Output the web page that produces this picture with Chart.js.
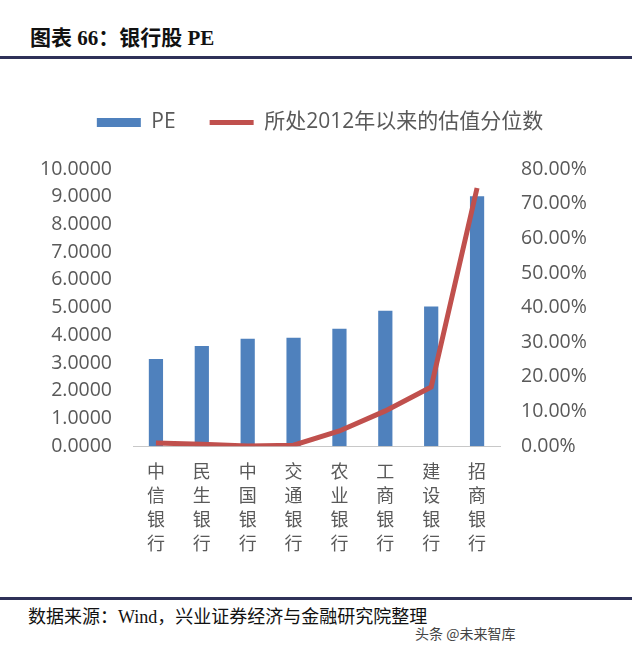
<!DOCTYPE html>
<html>
<head>
<meta charset="utf-8">
<script src="https://cdn.jsdelivr.net/npm/chart.js@4/dist/chart.umd.min.js"></script>
<style>
    body { margin: 0; background: #fff; width: 640px; height: 652px; position: relative; overflow: hidden; }
    .title { position: absolute; left: 30px; top: 21px; font: bold 21px "Liberation Serif", "Noto Sans CJK SC", serif; color: #111; }
    .rule { position: absolute; left: 0; width: 632px; height: 3px; background: #2e3158; }
    .source { position: absolute; left: 28px; top: 602px; font: 18px "Liberation Serif", "Noto Sans CJK SC", serif; color: #111; }
    .mark { position: absolute; left: 415px; top: 623px; font: 14px "Noto Sans CJK SC", sans-serif; color: #444; }
    .chart-box { position: absolute; left: 0; top: 78px; width: 640px; height: 496px; }
</style>
</head>
<body>
<div class="title">图表 66：银行股 PE</div>
<div class="rule" style="top:56px"></div>
<div class="chart-box"><canvas id="peChart"></canvas></div>
<div class="rule" style="top:597px"></div>
<div class="source">数据来源：Wind，兴业证券经济与金融研究院整理</div>
<div class="mark">头条 @未来智库</div>

<script>
const banks = ['中信银行', '民生银行', '中国银行', '交通银行', '农业银行', '工商银行', '建设银行', '招商银行'];
const peValues = [3.15, 3.62, 3.88, 3.91, 4.24, 4.89, 5.04, 9.02];
// percentile since 2012, in percent
const percentileValues = [0.9, 0.6, 0.1, 0.3, 4.4, 10.2, 17.1, 74.5];

const TEXT_COLOR = '#595959';
const FONT = '"Open Sans", "Noto Sans CJK SC", sans-serif';

// push the plot area down a bit below the legend
const legendSpacer = {
    id: 'legendSpacer',
    beforeInit(chart) {
        const fit = chart.legend.fit;
        chart.legend.fit = function () {
            fit.call(this);
            this.height += 26;
        };
    }
};

const initializeChart = () => {
    const ctx = document.getElementById('peChart').getContext('2d');
    new Chart(ctx, {
        type: 'bar',
        data: {
            // stack each label vertically, one character per line
            labels: banks.map(name => name.split('')),
            datasets: [{
                label: 'PE',
                data: peValues,
                backgroundColor: '#4f81bd',
                barPercentage: 0.31,
                categoryPercentage: 1,
                yAxisID: 'y',
                order: 2
            }, {
                type: 'line',
                label: '所处2012年以来的估值分位数',
                data: percentileValues,
                borderColor: '#c0504d',
                backgroundColor: '#c0504d',
                borderWidth: 5,
                pointRadius: 0,
                tension: 0,
                yAxisID: 'y1',
                order: 1
            }]
        },
        options: {
            responsive: true,
            maintainAspectRatio: false,
            animation: false,
            layout: { padding: { left: 0, right: 0, top: 0, bottom: 10 } },
            plugins: {
                tooltip: { enabled: false },
                legend: {
                    position: 'top',
                    labels: {
                        usePointStyle: true,
                        pointStyleWidth: 44,
                        boxHeight: 9,
                        padding: 34,
                        color: TEXT_COLOR,
                        font: { family: FONT, size: 21 },
                        sort: (a, b) => a.datasetIndex - b.datasetIndex,
                        generateLabels: chart => Chart.defaults.plugins.legend.labels.generateLabels(chart).map(item => {
                            item.pointStyle = item.datasetIndex === 0 ? 'rect' : 'line';
                            return item;
                        })
                    }
                }
            },
            scales: {
                x: {
                    grid: { display: false },
                    border: { display: true, color: '#c8c8c8', width: 1 },
                    ticks: {
                        color: TEXT_COLOR,
                        padding: 7,
                        maxRotation: 0,
                        autoSkip: false,
                        font: { family: FONT, size: 18, lineHeight: 1.33 }
                    }
                },
                y: {
                    position: 'left',
                    min: 0,
                    max: 10,
                    grid: { display: false },
                    border: { display: false },
                    afterFit: scale => { scale.width = 133; },
                    ticks: {
                        stepSize: 1,
                        color: TEXT_COLOR,
                        padding: 13,
                        font: { family: FONT, size: 19.5 },
                        callback: value => value.toFixed(4)
                    }
                },
                y1: {
                    position: 'right',
                    min: 0,
                    max: 80,
                    grid: { display: false },
                    border: { display: false },
                    afterFit: scale => { scale.width = 140; },
                    ticks: {
                        stepSize: 10,
                        color: TEXT_COLOR,
                        padding: 13,
                        font: { family: FONT, size: 19.5 },
                        callback: value => value.toFixed(2) + '%'
                    }
                }
            }
        },
        plugins: [legendSpacer]
    });
};

window.onload = () => {
    initializeChart();
};
</script>
</body>
</html>
